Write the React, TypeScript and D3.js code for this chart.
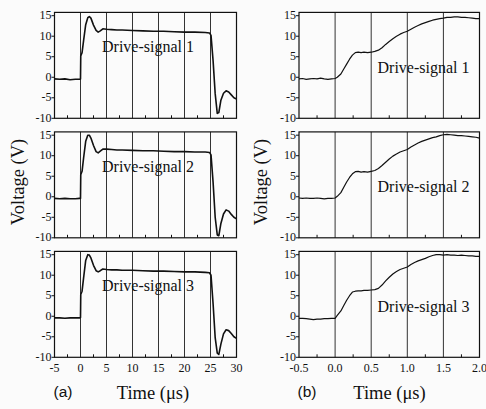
import React from "react";
import * as d3 from "d3";

// ---------- data ----------
const signalNames = ["Drive-signal 1", "Drive-signal 2", "Drive-signal 3"];
const yTicks = [-10, -5, 0, 5, 10, 15];
const leftXTicks = [-5, 0, 5, 10, 15, 20, 25, 30];
const rightXTicks = [-0.5, 0.0, 0.5, 1.0, 1.5, 2.0];
const rightXLabels = ["-0.5", "0.0", "0.5", "1.0", "1.5", "2.0"];

// (a) long time scale, µs
const longTime = [-5, -4, -3, -2, -1, -0.2, 0, 0.05, 0.3, 0.6, 1.0, 1.4, 1.7, 2.0, 2.5, 3.0, 3.4, 3.8, 4.3, 5, 6, 7, 8, 10, 12, 14, 16, 18, 20, 22, 24, 24.8, 25.1, 25.5, 25.9, 26.3, 26.6, 27.0, 27.5, 28.0, 28.5, 29.0, 29.5, 30];
const longSig1 = [-0.4, -0.5, -0.4, -0.6, -0.5, -0.5, -0.4, 5.2, 6.0, 9.0, 12.8, 14.5, 14.8, 14.4, 12.7, 11.4, 11.0, 11.3, 11.8, 11.7, 11.6, 11.5, 11.5, 11.4, 11.3, 11.2, 11.2, 11.1, 11.0, 11.0, 10.9, 10.8, 10.2, 4.0, -4.0, -8.8, -8.6, -5.6, -3.9, -3.3, -3.6, -4.3, -5.0, -5.3];
const longSig2 = [-0.4, -0.5, -0.4, -0.5, -0.5, -0.4, -0.4, 5.4, 6.2, 9.5, 13.5, 15.0, 15.0, 14.3, 12.5, 11.0, 10.7, 11.1, 11.6, 11.6, 11.5, 11.4, 11.4, 11.3, 11.2, 11.2, 11.1, 11.0, 11.0, 10.9, 10.9, 10.8, 10.2, 3.5, -5.0, -9.3, -9.5, -6.5, -4.2, -3.2, -3.5, -4.3, -5.0, -5.4];
const longSig3 = [-0.4, -0.4, -0.5, -0.4, -0.4, -0.4, -0.3, 5.3, 6.1, 9.4, 13.6, 15.0, 14.9, 14.2, 12.4, 11.1, 10.8, 11.1, 11.5, 11.4, 11.3, 11.3, 11.2, 11.2, 11.1, 11.0, 11.0, 10.9, 10.8, 10.8, 10.7, 10.6, 10.0, 3.0, -5.2, -9.0, -9.3, -6.8, -4.3, -3.3, -3.5, -4.2, -5.0, -5.4];

// (b) short time scale, µs
const shortTime = [-0.5, -0.45, -0.4, -0.35, -0.3, -0.25, -0.2, -0.15, -0.1, -0.05, 0.0, 0.03, 0.08, 0.12, 0.16, 0.2, 0.24, 0.28, 0.32, 0.36, 0.4, 0.45, 0.5, 0.55, 0.6, 0.65, 0.7, 0.75, 0.8, 0.85, 0.9, 0.95, 1.0, 1.05, 1.1, 1.15, 1.2, 1.25, 1.3, 1.35, 1.4, 1.45, 1.5, 1.55, 1.6, 1.65, 1.7, 1.75, 1.8, 1.85, 1.9, 1.95, 2.0];
const shortSig1 = [-0.4, -0.3, -0.5, -0.4, -0.3, -0.4, -0.2, -0.4, -0.5, -0.4, -0.3, 0.0, 0.8, 2.0, 3.2, 4.4, 5.4, 6.0, 6.1, 6.0, 6.1, 6.0, 6.1, 6.3, 6.6, 7.2, 8.0, 8.7, 9.4, 10.0, 10.5, 10.9, 11.2, 11.7, 12.2, 12.6, 13.0, 13.3, 13.6, 13.9, 14.1, 14.3, 14.4, 14.6, 14.6, 14.7, 14.7, 14.6, 14.6, 14.5, 14.4, 14.3, 14.3];
const shortSig2 = [-0.3, -0.4, -0.3, -0.4, -0.4, -0.3, -0.4, -0.5, -0.4, -0.4, -0.3, 0.1, 1.0, 2.3, 3.6, 4.7, 5.6, 6.1, 6.2, 6.0, 6.1, 6.0, 6.2, 6.4, 6.9, 7.6, 8.4, 9.2, 9.9, 10.4, 10.9, 11.2, 11.5, 12.1, 12.6, 13.1, 13.5, 13.8, 14.1, 14.4, 14.6, 14.9, 15.1, 15.2, 15.1, 15.0, 14.9, 14.9, 14.8, 14.7, 14.6, 14.5, 14.3];
const shortSig3 = [-0.5, -0.5, -0.6, -0.7, -0.8, -0.7, -0.7, -0.6, -0.6, -0.5, -0.5, 0.2, 1.3, 2.6, 3.9, 5.0, 5.9, 6.1, 6.2, 6.2, 6.3, 6.3, 6.4, 6.5, 6.8, 7.6, 8.6, 9.5, 10.3, 10.9, 11.4, 11.7, 12.0, 12.6, 13.1, 13.5, 13.8, 14.1, 14.5, 14.8, 15.0, 15.0, 14.9, 15.0, 14.9, 14.9, 14.8, 14.9, 14.8, 14.7, 14.7, 14.6, 14.6];

const longSignals = [longSig1, longSig2, longSig3];
const shortSignals = [shortSig1, shortSig2, shortSig3];

// ---------- layout ----------
const W = 486;
const H = 409;
const panelStep = 119.5;
const serif = "'Liberation Serif', 'Times New Roman', serif";
const sans = "'Liberation Sans', Arial, sans-serif";
const ink = "#111";

type ColumnProps = {
  x0: number;
  x1: number;
  domain: [number, number];
  ticks: number[];
  tickLabels: string[];
  gridTicks: number[];
  minorTicks: number[];
  time: number[];
  signals: number[][];
  labelCx: number;
  labelBase: number;
  strokeW: number;
};

function Column(p: ColumnProps) {
  const x = d3.scaleLinear().domain(p.domain).range([p.x0, p.x1]);
  return (
    <g>
      {p.signals.map((sig, i) => {
        const off = i * panelStep;
        const y = d3.scaleLinear().domain([-10, 15.8]).range([118.3 + off, 12.4 + off]);
        const line = d3
          .line<number>()
          .x((_, k) => x(p.time[k]))
          .y((v) => y(v));
        const yTop = y(15.8);
        const yBot = y(-10);
        return (
          <g key={i}>
            {p.gridTicks.map((t) => (
              <line key={"g" + t} x1={x(t)} x2={x(t)} y1={yTop} y2={yBot} stroke="#333" strokeWidth={1} />
            ))}
            {p.minorTicks.map((t) => (
              <line key={"m" + t} x1={x(t)} x2={x(t)} y1={yBot} y2={yBot - 3} stroke={ink} strokeWidth={1} />
            ))}
            <path d={line(sig) || ""} fill="none" stroke={ink} strokeWidth={p.strokeW} strokeLinejoin="round" />
            <rect x={p.x0} y={yTop} width={p.x1 - p.x0} height={yBot - yTop} fill="none" stroke={ink} strokeWidth={1.2} />
            {yTicks.map((t) => (
              <g key={"y" + t}>
                <line x1={p.x0 - 3} x2={p.x0} y1={y(t)} y2={y(t)} stroke={ink} strokeWidth={1} />
                <text x={p.x0 - 3} y={y(t)} dy="0.3em" textAnchor="end" fontFamily={serif} fontSize={12} fill={ink}>
                  {t}
                </text>
              </g>
            ))}
            <text x={p.labelCx} y={p.labelBase + off} textAnchor="middle" fontFamily={serif} fontSize={16} fill={ink}>
              {signalNames[i]}
            </text>
            {i === 2 &&
              p.ticks.map((t, k) => (
                <text key={"x" + t} x={x(t)} y={yBot + 15} textAnchor="middle" fontFamily={serif} fontSize={12} fill={ink}>
                  {p.tickLabels[k]}
                </text>
              ))}
          </g>
        );
      })}
    </g>
  );
}

export default function App() {
  return (
    <svg width={W} height={H} style={{ position: "absolute", left: 0, top: 0, background: "#fbfbfb" }}>
      <Column
        x0={54.5}
        x1={236.5}
        domain={[-5, 30]}
        ticks={leftXTicks}
        tickLabels={leftXTicks.map(String)}
        gridTicks={[0, 5, 10, 15, 20, 25]}
        minorTicks={[-2.5, 2.5, 7.5, 12.5, 17.5, 22.5, 27.5]}
        time={longTime}
        signals={longSignals}
        labelCx={148}
        labelBase={52}
        strokeW={1.6}
      />
      <Column
        x0={299}
        x1={479.5}
        domain={[-0.5, 2.0]}
        ticks={rightXTicks}
        tickLabels={rightXLabels}
        gridTicks={[0, 0.5, 1.0, 1.5]}
        minorTicks={[-0.25, 0.25, 0.75, 1.25, 1.75]}
        time={shortTime}
        signals={shortSignals}
        labelCx={423.5}
        labelBase={72.7}
        strokeW={1.2}
      />
      <text transform="translate(24,182) rotate(-90)" textAnchor="middle" fontFamily={serif} fontSize={18.5} fill={ink}>
        Voltage (V)
      </text>
      <text transform="translate(267,182) rotate(-90)" textAnchor="middle" fontFamily={serif} fontSize={18.5} fill={ink}>
        Voltage (V)
      </text>
      <text x={63} y={397} textAnchor="middle" fontFamily={sans} fontSize={15.5} fill={ink}>(a)</text>
      <text x={153} y={399} textAnchor="middle" fontFamily={serif} fontSize={18.5} fill={ink}>Time (μs)</text>
      <text x={307} y={397} textAnchor="middle" fontFamily={sans} fontSize={15.5} fill={ink}>(b)</text>
      <text x={389.5} y={399} textAnchor="middle" fontFamily={serif} fontSize={18.5} fill={ink}>Time (μs)</text>
    </svg>
  );
}
